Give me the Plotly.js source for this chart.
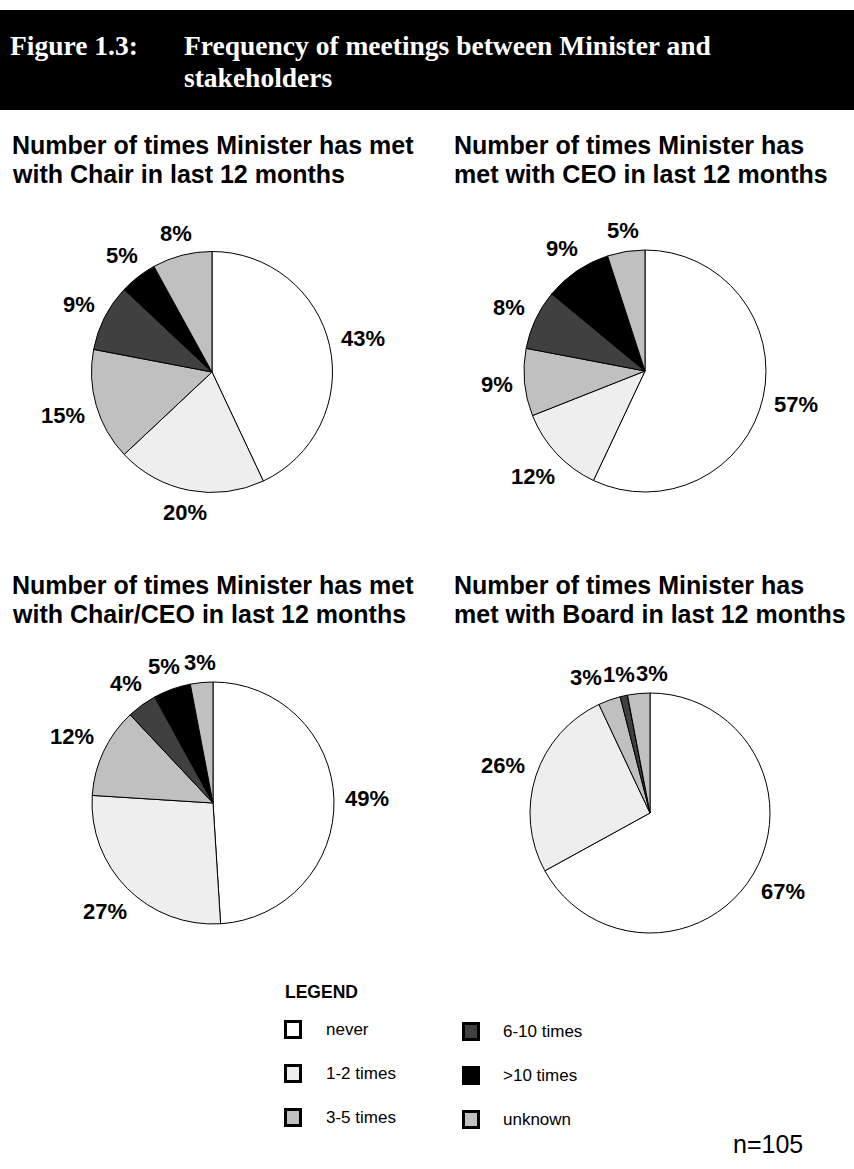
<!DOCTYPE html>
<html>
<head>
<meta charset="utf-8">
<script src="https://cdn.plot.ly/plotly-3.0.1.min.js"></script>
<style>
html,body{margin:0;padding:0;background:#ffffff;}
#chart{width:854px;height:1169px;}
</style>
</head>
<body>
<div id="chart"></div>
<script>
// ---- data ----
const categories = ['never', '1-2 times', '3-5 times', '6-10 times', '>10 times', 'unknown'];
const chairValues = [43, 20, 15, 9, 5, 8];
const ceoValues = [57, 12, 9, 8, 9, 5];
const chairCeoValues = [49, 27, 12, 4, 5, 3];
const boardValues = [67, 26, 3, 1, 0, 3];
const sliceColors = ['#ffffff', '#eeeeee', '#c0c0c0', '#404040', '#000000', '#c0c0c0'];
const chairTitle = ['Number of times Minister has met', 'with Chair in last 12 months'];
const ceoTitle = ['Number of times Minister has', 'met with CEO in last 12 months'];
const chairCeoTitle = ['Number of times Minister has met', 'with Chair/CEO in last 12 months'];
const boardTitle = ['Number of times Minister has', 'met with Board in last 12 months'];
const figureLabel = 'Figure 1.3:';
const figureTitle = ['Frequency of meetings between Minister and', 'stakeholders'];
const legendHeading = 'LEGEND';
const sampleNote = 'n=105';

// ---- layout helpers ----
const W = 854, H = 1169;
const SANS = 'Liberation Sans, Arial, Helvetica, sans-serif';
const SERIF = 'Liberation Serif, Times New Roman, serif';
const LABEL_SIZE = 22;

// pie geometry (pixels): center x, center y, radius
const pies = [
  { values: chairValues, cx: 212, cy: 372, r: 120.5, title: chairTitle, tx: 12, tb: 154 },
  { values: ceoValues, cx: 645, cy: 371, r: 121, title: ceoTitle, tx: 454, tb: 154 },
  { values: chairCeoValues, cx: 213, cy: 803, r: 121, title: chairCeoTitle, tx: 12, tb: 594 },
  { values: boardValues, cx: 650, cy: 813, r: 120, title: boardTitle, tx: 454, tb: 594 }
];

function pieTrace(p) {
  return {
    type: 'pie',
    values: p.values,
    labels: categories,
    sort: false,
    direction: 'clockwise',
    rotation: 0,
    marker: { colors: sliceColors, line: { color: '#000000', width: 1 } },
    textinfo: 'none',
    domain: { x: [(p.cx - p.r) / W, (p.cx + p.r) / W], y: [1 - (p.cy + p.r) / H, 1 - (p.cy - p.r) / H] },
    hoverinfo: 'label+percent',
    showlegend: false,
    automargin: false
  };
}

// text annotation anchored at a baseline position (pixels from top-left)
function textAt(text, xPx, baselinePx, size, family, color, bold, anchor) {
  const asc = family === SERIF ? 0.891 : 0.905;
  const desc = family === SERIF ? 0.216 : 0.212;
  const centerOffset = (asc - (asc + desc) / 2) * size;
  return {
    text: bold ? '<b>' + text + '</b>' : text,
    xref: 'paper', yref: 'paper',
    x: xPx / W, y: 1 - (baselinePx - centerOffset) / H,
    xanchor: anchor || 'left', yanchor: 'middle',
    showarrow: false, borderpad: 0, borderwidth: 0,
    font: { family: family, size: size, color: color }
  };
}

// percentage labels placed outside each slice, along its mid angle
function sliceLabels(p) {
  const total = p.values.reduce((a, b) => a + b, 0);
  const labels = [];
  let cum = 0;
  p.values.forEach((v) => {
    const start = cum;
    cum += v;
    if (v <= 0) return;
    const theta = 2 * Math.PI * (start + v / 2) / total;
    const ux = Math.sin(theta), uy = -Math.cos(theta);
    const text = v + '%';
    const w = LABEL_SIZE * (0.556 * String(v).length + 0.889);
    const hh = 8;
    const dist = p.r + 11 + (w / 2) * Math.abs(ux) + hh * Math.abs(uy);
    labels.push({ text: text, x: p.cx + ux * dist, y: p.cy + uy * dist, w: w, h: 18 });
  });
  // push overlapping labels apart horizontally
  for (let it = 0; it < 30; it++) {
    for (let i = 0; i < labels.length; i++) {
      for (let j = i + 1; j < labels.length; j++) {
        const a = labels[i], b = labels[j];
        const ox = (a.w + b.w) / 2 + 1 - Math.abs(a.x - b.x);
        const oy = (a.h + b.h) / 2 - Math.abs(a.y - b.y);
        if (ox > 0 && oy > 0) {
          const s = a.x <= b.x ? 1 : -1;
          a.x -= s * ox / 2;
          b.x += s * ox / 2;
        }
      }
    }
  }
  return labels.map(l => ({
    text: '<b>' + l.text + '</b>',
    xref: 'paper', yref: 'paper',
    x: l.x / W, y: 1 - l.y / H,
    xanchor: 'center', yanchor: 'middle',
    showarrow: false, borderpad: 0, borderwidth: 0,
    font: { family: SANS, size: LABEL_SIZE, color: '#000000' }
  }));
}

const data = pies.map(pieTrace);

const annotations = [];
const shapes = [];

// header bar
shapes.push({ type: 'rect', xref: 'paper', yref: 'paper', x0: 0, x1: 1, y0: 1 - 110 / H, y1: 1 - 10 / H,
  fillcolor: '#000000', line: { width: 0 }, layer: 'below' });
annotations.push(textAt(figureLabel, 10, 55, 27.5, SERIF, '#ffffff', true));
annotations.push(textAt(figureTitle[0], 184, 55, 27.5, SERIF, '#ffffff', true));
annotations.push(textAt(figureTitle[1], 184, 87, 27.5, SERIF, '#ffffff', true));

// chart titles and slice labels
pies.forEach(p => {
  annotations.push(textAt(p.title[0], p.tx, p.tb, 25, SANS, '#000000', true));
  annotations.push(textAt(p.title[1], p.tx, p.tb + 28.5, 25, SANS, '#000000', true));
  sliceLabels(p).forEach(a => annotations.push(a));
});

// legend
annotations.push(textAt(legendHeading, 285, 998, 17.5, SANS, '#000000', true));
const legendCols = [[284, 326], [462, 503]];
const legendRows = [1020, 1064, 1108];
categories.forEach((cat, i) => {
  const col = Math.floor(i / 3), row = i % 3;
  const [sx, tx] = legendCols[col];
  const top = legendRows[row] + col * 2;
  shapes.push({ type: 'rect', xref: 'paper', yref: 'paper',
    x0: (sx + 1.5) / W, x1: (sx + 16.5) / W,
    y0: 1 - (top + 17.5) / H, y1: 1 - (top + 1.5) / H,
    fillcolor: sliceColors[i], line: { color: '#000000', width: 3 } });
  annotations.push(textAt(cat, tx, top + 15, 17, SANS, '#000000', false));
});

// sample size
annotations.push(textAt(sampleNote, 733, 1153, 25, SANS, '#000000', false));

const layout = {
  width: W, height: H,
  margin: { l: 0, r: 0, t: 0, b: 0 },
  paper_bgcolor: '#ffffff',
  plot_bgcolor: '#ffffff',
  showlegend: false,
  annotations: annotations,
  shapes: shapes
};

Plotly.newPlot('chart', data, layout, { displayModeBar: false, staticPlot: true });
</script>
</body>
</html>
